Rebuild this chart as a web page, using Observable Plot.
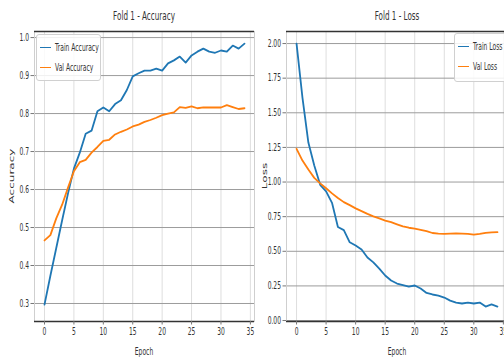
<!DOCTYPE html>
<html><head><meta charset="utf-8">
<script src="https://cdn.jsdelivr.net/npm/d3@7"></script>
<script src="https://cdn.jsdelivr.net/npm/@observablehq/plot@0.6"></script>
<style>
body{margin:0;background:#fff}
#root{position:relative;width:504px;height:362px;overflow:hidden;background:#fff;font-family:"DejaVu Sans",sans-serif;color:#333}
.pane{position:absolute;top:0}
.pane svg{max-width:none !important}
.t{position:absolute;white-space:nowrap;line-height:1}
.box{position:absolute;border:1px solid #d0d0d0;border-radius:3px;background:rgba(255,255,255,0.85);box-sizing:border-box}
.sw{position:absolute;height:0;border-top:1.8px solid}
</style>
</head><body>
<div id="root">
  <div id="left" class="pane" style="left:0"></div>
  <div id="right" class="pane" style="left:252px;width:252px;height:362px;overflow:hidden"></div>
</div>
<script>
const epochs = [0,1,2,3,4,5,6,7,8,9,10,11,12,13,14,15,16,17,18,19,20,21,22,23,24,25,26,27,28,29,30,31,32,33,34];
const trainAcc = [0.297,0.373,0.446,0.519,0.59,0.655,0.697,0.747,0.755,0.806,0.816,0.806,0.825,0.835,0.862,0.898,0.906,0.913,0.913,0.918,0.913,0.932,0.94,0.95,0.934,0.953,0.963,0.971,0.963,0.96,0.966,0.963,0.979,0.971,0.984];
const valAcc = [0.466,0.48,0.524,0.56,0.605,0.648,0.672,0.678,0.697,0.712,0.728,0.731,0.745,0.752,0.758,0.766,0.771,0.778,0.783,0.789,0.796,0.80,0.803,0.817,0.815,0.819,0.814,0.816,0.816,0.816,0.816,0.822,0.817,0.812,0.814];
const trainLoss = [2.00,1.61,1.285,1.12,0.98,0.933,0.85,0.675,0.653,0.565,0.542,0.513,0.455,0.42,0.375,0.325,0.289,0.267,0.256,0.245,0.253,0.231,0.199,0.188,0.18,0.166,0.144,0.13,0.123,0.13,0.123,0.13,0.101,0.116,0.101];
const valLoss = [1.24,1.155,1.09,1.03,0.99,0.955,0.918,0.885,0.855,0.833,0.81,0.79,0.77,0.752,0.737,0.722,0.71,0.695,0.68,0.67,0.663,0.655,0.645,0.632,0.627,0.626,0.628,0.63,0.628,0.625,0.62,0.625,0.633,0.637,0.638];
const xTicks = [0,5,10,15,20,25,30,35];
const accTicks = [0.3,0.4,0.5,0.6,0.7,0.8,0.9,1.0];
const lossTicks = [0,0.25,0.5,0.75,1.0,1.25,1.5,1.75,2.0];
const titles = ["Fold 1 - Accuracy", "Fold 1 - Loss"];
const yLabels = ["Accuracy", "Loss"];
const xLabel = "Epoch";
const accNames = ["Train Accuracy", "Val Accuracy"];
const lossNames = ["Train Loss", "Val Loss"];
const colors = ["#1f77b4", "#ff7f0e"];

const xDomain = [-1.7, 35.7];
const accDomain = [0.2526, 1.016];
const lossDomain = [-0.007, 2.087];
const SQ = 0.6;

function squeeze(svg) {
  svg.querySelectorAll("text").forEach(t => {
    const x = parseFloat(t.getAttribute("x") || 0), y = parseFloat(t.getAttribute("y") || 0);
    const tr = t.getAttribute("transform") || "";
    t.setAttribute("transform", `${tr} translate(${x},${y}) scale(${SQ},1) translate(${-x},${-y})`);
  });
  return svg;
}

function panel({width, marginLeft, marginRight, yDomain, yTicks, yFormat, train, val}) {
  const rows = epochs.map((e, i) => ({epoch: e, train: train[i], val: val[i]}));
  const svg = Plot.plot({
    width, height: 362, marginLeft, marginRight, marginTop: 31, marginBottom: 41,
    style: {fontFamily: "DejaVu Sans, sans-serif", fontSize: "10px", color: "#333", background: "transparent", overflow: "visible", maxWidth: "none"},
    x: {domain: xDomain},
    y: {domain: yDomain},
    marks: [
      Plot.gridX(xTicks, {stroke: "#dedede", strokeOpacity: 1}),
      Plot.gridY(yTicks, {stroke: "#9c9c9c", strokeOpacity: 1}),
      Plot.frame({stroke: "#cfcfcf"}),
      Plot.ruleY([yDomain[0], yDomain[1]], {stroke: "#333", strokeWidth: 1.5}),
      Plot.axisX(xTicks, {tickSize: 3.5, tickPadding: 3, label: null, tickFormat: d => String(d), stroke: "#777"}),
      Plot.axisY(yTicks, {tickSize: 3.5, tickPadding: 2, label: null, tickFormat: yFormat, stroke: "#777"}),
      Plot.lineY(rows, {x: "epoch", y: "train", stroke: colors[0], strokeWidth: 1.8}),
      Plot.lineY(rows, {x: "epoch", y: "val", stroke: colors[1], strokeWidth: 1.8})
    ]
  });
  svg.style.maxWidth = "none";
  return squeeze(svg);
}

document.getElementById("left").append(panel({
  width: 260, marginLeft: 34, marginRight: 6, yDomain: accDomain, yTicks: accTicks,
  yFormat: d3.format(".1f"), train: trainAcc, val: valAcc
}));
document.getElementById("right").append(panel({
  width: 258, marginLeft: 34, marginRight: 3, yDomain: lossDomain, yTicks: lossTicks,
  yFormat: d3.format(".2f"), train: trainLoss, val: valLoss
}));

const root = document.getElementById("root");
function text(str, x, y, size, {anchor = "middle", rotate = 0} = {}) {
  const d = document.createElement("div");
  d.className = "t";
  d.textContent = str;
  d.style.left = x + "px";
  d.style.top = y + "px";
  d.style.fontSize = size + "px";
  if (anchor === "middle") {
    d.style.transformOrigin = "50% 50%";
    d.style.transform = `translate(-50%,-50%) rotate(${rotate}deg) scale(${rotate ? 1 : SQ},${rotate ? SQ : 1})`;
  } else {
    d.style.transformOrigin = "0 50%";
    d.style.transform = `translate(0,-50%) scale(${SQ},1)`;
  }
  root.append(d);
}
function legend(left, top, w, h, names) {
  const b = document.createElement("div");
  b.className = "box";
  Object.assign(b.style, {left: left + "px", top: top + "px", width: w + "px", height: h + "px"});
  root.append(b);
  names.forEach((n, i) => {
    const yy = top + 14 + i * 19.5;
    const s = document.createElement("div");
    s.className = "sw";
    Object.assign(s.style, {left: (left + 4) + "px", top: (yy - 0.9) + "px", width: "11px", borderColor: colors[i]});
    root.append(s);
    text(n, left + 19, yy, 10, {anchor: "start"});
  });
}

text(titles[0], 144, 16, 12);
text(titles[1], 396.5, 16, 12);
text(xLabel, 144, 352, 10);
text(xLabel, 396.5, 352, 10);
text(yLabels[0], 12, 176, 12, {rotate: -90});
text(yLabels[1], 265, 176, 12, {rotate: -90});
legend(36, 34, 65, 47, accNames);
legend(454, 33, 60, 49, lossNames);
</script>
</body></html>
